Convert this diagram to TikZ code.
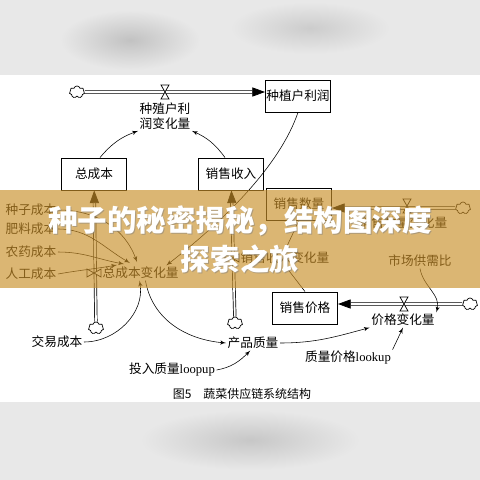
\documentclass[tikz,border=0pt]{standalone}
\usepackage{fontspec}
\newfontfamily\cjk{Noto Sans CJK SC}
\newfontfamily\lat{Liberation Serif}
\usetikzlibrary{arrows, arrows.meta, shapes.symbols, calc}

\begin{document}
\begin{tikzpicture}[
    x=0.025cm, y=-0.025cm,
    every node/.style={font=\cjk\fontsize{9}{10.5}\selectfont, inner sep=1pt},
    stock/.style={rectangle, draw, line width=0.6pt, fill=white, minimum width=1.63cm, minimum height=0.8cm, inner sep=0pt},
    source/.style={cloud, draw, cloud puffs=7, line width=0.5pt, fill=white, minimum width=0.38cm, minimum height=0.3cm, inner sep=0pt},
    pipe/.style={draw, double, double distance=1.3pt, line width=0.5pt, -{Triangle[length=9pt, width=6.5pt]}},
    link/.style={draw, line width=0.4pt, -latex'},
    valvepic/.pic={\draw[line width=0.5pt, fill=white] (-4,-7) -- (4,-7) -- (-4,7) -- (4,7) -- cycle;}
]
    % background and figure area
    \fill[black!9] (0,0) rectangle (480,480);
    \shade[inner color=black!24, outer color=black!9] (130,40) ellipse (70 and 30);
    \shade[inner color=black!20, outer color=black!9] (310,28) ellipse (80 and 26);
    \shade[inner color=black!22, outer color=black!9] (250,440) ellipse (110 and 30);
    \fill[white] (0,75) rectangle (480,402);
    \useasboundingbox (0,0) rectangle (480,480);

    % stocks
    \node [stock] (profit) at (298,96) {种植户利润};
    \node [stock] (cost) at (94,174) {总成本};
    \node [stock] (income) at (231,174) {销售收入};
    \node [stock] (qty) at (299,204) {销售数量};
    \node [stock] (price) at (305,308) {销售价格};

    % sources
    \node [source] (c1) at (77,92) {};
    \node [source] (c2) at (96,328) {};
    \node [source] (c3) at (235,323) {};
    \node [source] (c4) at (463,208) {};
    \node [source] (c5) at (470,304) {};

    % flows
    \path [pipe] (c1) -- (profit.west |- c1);
    \path [pipe] (c2) -- (cost);
    \path [pipe] (c3) -- (income);
    \path [pipe] (c4) -- (qty.east |- c4);
    \path [pipe] (c5) -- (price.east |- c5);
    \pic at (165,92) {valvepic};
    \pic[rotate=90] at (94,273) {valvepic};
    \pic[rotate=90] at (232,258) {valvepic};
    \pic at (407,206) {valvepic};
    \pic at (404,304) {valvepic};

    % rates and auxiliaries
    \node [align=center] (pflow) at (165,116) {种殖户利\\润变化量};
    \node [anchor=west] (cflow) at (101,273) {总成本变化量};
    \node [anchor=west] (iflow) at (239,258) {销售收入变化量};
    \node (qflow) at (403,223) {销售数量变化量};
    \node (prflow) at (403,320) {价格变化量};
    \node [anchor=west] (seed) at (4,210) {种子成本};
    \node [anchor=west] (fert) at (4,229) {肥料成本};
    \node [anchor=west] (pest) at (4,252) {农药成本};
    \node [anchor=west] (labor) at (4,274) {人工成本};
    \node (trade) at (57,342) {交易成本};
    \node (quality) at (253,343) {产品质量};
    \node (inlook) at (172,370) {投入质量{\lat loopup}};
    \node (qlook) at (348,358) {质量价格{\lat lookup}};
    \node (ratio) at (420,261) {市场供需比};

    % links
    \path [link] (cost.70) to[bend left=15] (pflow.south west);
    \path [link] (income.110) to[bend right=15] (pflow.south east);
    \path [link] (profit.south) .. controls (280,165) and (225,220) .. ([xshift=-0.35cm]cflow.north east);
    \path [link] (seed.east) to[out=0, in=110] (137,262);
    \path [link] (fert.east) to[out=0, in=150] (130,263);
    \path [link] (pest.east) to[out=0, in=170] (124,264);
    \path [link] (labor.east) to[out=10, in=190] (117,265);
    \path [link] (trade.east) to[out=0, in=-80] ([xshift=-0.03cm]cflow.south);
    \path [link] ([xshift=0.12cm]cflow.south) to[out=-80, in=175] (quality.west);
    \path [link] (qty.south) -- (iflow.north);
    \path [link] (price.north) -- (iflow.south);
    \path [link] (ratio.south) to[out=-80, in=75] (prflow.north east);
    \path [link] (quality.east) to[out=0, in=195] (prflow.south west);
    \path [link] (qlook.north east) -- (prflow.south);
    \path [link] (inlook.east) to[out=10, in=225] (quality.250);

    % caption
    \node [font=\cjk\fontsize{8.5}{10}\selectfont] (cap) at (242,394) {图5\quad 蔬菜供应链系统结构};

    % banner
    \fill[fill={rgb,255:red,201;green,143;blue,40}, opacity=0.65] (0,190) rectangle (480,288);
    \node [font=\cjk\bfseries\fontsize{21}{24}\selectfont, text=black!50, opacity=0.5] at (241,222) {种子的秘密揭秘，结构图深度};
    \node [font=\cjk\bfseries\fontsize{21}{24}\selectfont, text=white] (title1) at (240,221) {种子的秘密揭秘，结构图深度};
    \node [font=\cjk\bfseries\fontsize{21}{24}\selectfont, text=black!50, opacity=0.5] at (241,260) {探索之旅};
    \node [font=\cjk\bfseries\fontsize{21}{24}\selectfont, text=white] (title2) at (240,259) {探索之旅};
\end{tikzpicture}
\end{document}
